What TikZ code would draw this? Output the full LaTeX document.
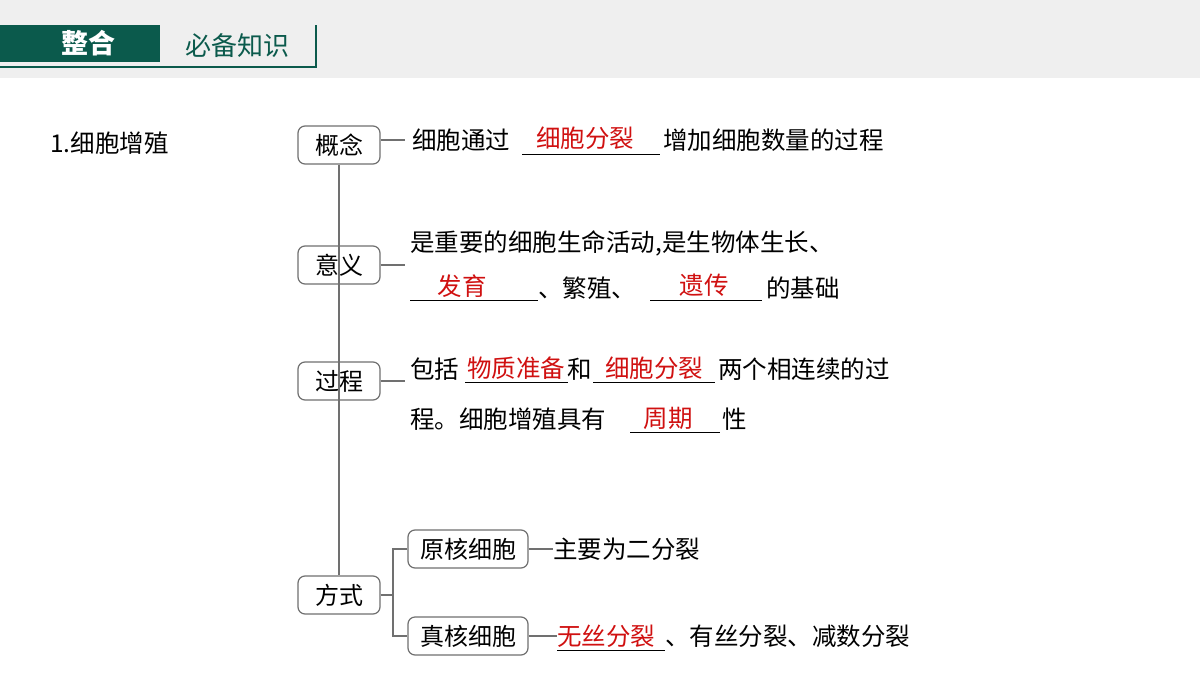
\documentclass[tikz,border=0pt]{standalone}
\usepackage{fontspec}
\setmainfont{Noto Sans CJK SC}
\definecolor{hdgreen}{HTML}{0B5A4C}
\definecolor{hdgray}{HTML}{EFEFEF}
\definecolor{ansred}{HTML}{D01010}
\definecolor{linegray}{HTML}{707070}
\begin{document}
\begin{tikzpicture}[x=1pt,y=-1pt,
  box/.style={draw=linegray,line width=1.2pt,rounded corners=7pt,minimum height=38pt,minimum width=82pt,inner xsep=4pt,font=\fontsize{24}{26}\selectfont},
  txt/.style={anchor=west,inner sep=0pt,font=\fontsize{24.5}{26}\selectfont},
  ans/.style={anchor=base,inner sep=0pt,text=ansred,font=\fontsize{24.5}{26}\selectfont},
  conn/.style={draw=linegray,line width=1.2pt},
  ul/.style={draw=black,line width=0.9pt}]
\useasboundingbox (0,0) rectangle (1200,675);
\fill[white] (0,0) rectangle (1200,675);
\fill[hdgray] (0,0) rectangle (1200,78);
\fill[hdgreen] (0,25) rectangle (160,62);
\node[text=white,font=\fontsize{27}{28}\selectfont\bfseries] (zh) at (88,43) {整合};
\node[text=hdgreen,font=\fontsize{26}{28}\selectfont] (bb) at (237,46) {必备知识};
\draw[hdgreen,line width=1.5pt] (0,67) -- (316,67) -- (316,25);
\node[txt] (title) at (50,143) {1.细胞增殖};
% main nodes
\node[box] (gn) at (339,145) {概念};
\node[box] (yy) at (339,265) {意义};
\node[box] (gc) at (339,381) {过程};
\node[box] (fs) at (339,595) {方式};
\node[box,minimum width=120pt] (yh) at (468,549) {原核细胞};
\node[box,minimum width=120pt] (zh2) at (468,636) {真核细胞};
\draw[conn] (gn.south) -- (fs.north);
\coordinate (br) at (393,595);
\draw[conn] (fs.east) -- (br);
\draw[conn] (yh.west) -| (br) |- (zh2.west);
% 概念
\node[txt] (t1) at (412,140) {细胞通过};
\coordinate (c1) at (405,140);
\draw[conn] (gn.east |- c1) -- (c1);
\coordinate (u1a) at (522,154); \coordinate (u1b) at (660,154);
\draw[ul] (u1a) -- (u1b);
\node[ans] (a1) at (585,147) {细胞分裂};
\node[txt] (t1b) at (663,140) {增加细胞数量的过程};
% 意义
\node[txt] (t2) at (410,243) {是重要的细胞生命活动,是生物体生长、};
\coordinate (c2) at (405,265);
\draw[conn] (yy.east) -- (c2);
\coordinate (u2a) at (410,300); \coordinate (u2b) at (538,300);
\draw[ul] (u2a) -- (u2b);
\node[ans] (a2) at (462,295) {发育};
\node[txt] (t2b) at (538,288) {、繁殖、};
\coordinate (u3a) at (650,300); \coordinate (u3b) at (762,300);
\draw[ul] (u3a) -- (u3b);
\node[ans] (a3) at (704,294) {遗传};
\node[txt] (t2c) at (766,288) {的基础};
% 过程
\node[txt] (t3) at (410,369) {包括};
\coordinate (c3) at (405,381);
\draw[conn] (gc.east) -- (c3);
\coordinate (u4a) at (465,382); \coordinate (u4b) at (568,382);
\draw[ul] (u4a) -- (u4b);
\node[ans] (a4) at (516,377) {物质准备};
\node[txt] (t3b) at (567,369) {和};
\coordinate (u5a) at (593,382); \coordinate (u5b) at (715,382);
\draw[ul] (u5a) -- (u5b);
\node[ans] (a5) at (654,377) {细胞分裂};
\node[txt] (t3c) at (718,369) {两个相连续的过};
\node[txt] (t3d) at (410,419) {程。细胞增殖具有};
\coordinate (u6a) at (630,432); \coordinate (u6b) at (720,432);
\draw[ul] (u6a) -- (u6b);
\node[ans] (a6) at (668,427) {周期};
\node[txt] (t3e) at (722,419) {性};
% 方式
\node[txt] (t4) at (553,549) {主要为二分裂};
\draw[conn] (yh.east) -- (t4.west);
\node[ans,anchor=west] (a7) at (557,636) {无丝分裂};
\draw[conn] (zh2.east) -- (a7.west);
\coordinate (u7a) at (557,650); \coordinate (u7b) at (665,650);
\draw[ul] (u7a) -- (u7b);
\node[txt] (t4b) at (665,636) {、有丝分裂、减数分裂};
\end{tikzpicture}
\end{document}
